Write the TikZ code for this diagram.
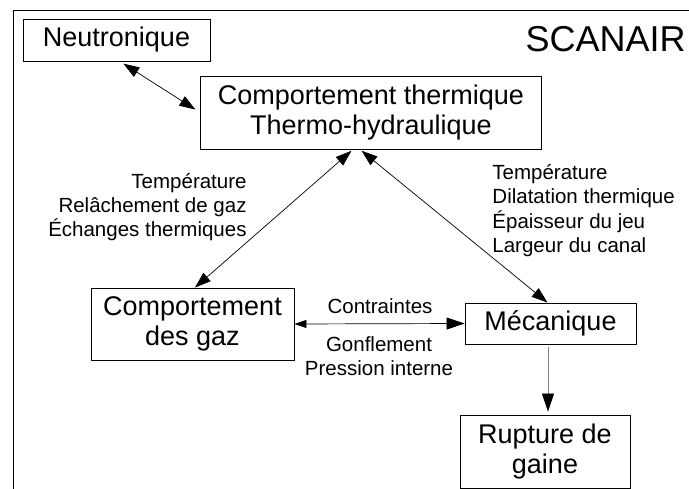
\documentclass[tikz,border=0pt]{standalone}
\usepackage{fontspec}
\setmainfont{Liberation Sans}
\usetikzlibrary{arrows.meta}

\begin{document}
\begin{tikzpicture}[x=1pt,y=-1pt,>={Triangle[length=16pt,width=11pt]},
	line width=0.9pt,
	main node/.style={draw,align=center,inner sep=0pt,font=\fontsize{27}{30}\selectfont},
	label node/.style={inner sep=0pt,font=\fontsize{20.5}{24.3}\selectfont}]
\useasboundingbox (0,0) rectangle (689,489);
\draw (13,489) -- (13,10) -- (689,10);
\node[main node,minimum width=187pt,minimum height=42pt] (neut) at (116.5,40) {Neutronique};
\node[main node,minimum width=341pt,minimum height=73pt] (therm) at (371,112.5) {Comportement thermique\\Thermo-hydraulique};
\node[main node,minimum width=203pt,minimum height=72pt] (gaz) at (192.5,324) {Comportement\\des gaz};
\node[main node,minimum width=171pt,minimum height=41pt] (meca) at (550.5,323.5) {Mécanique};
\node[main node,minimum width=170pt,minimum height=73pt] (rupt) at (545,451.5) {Rupture de\\gaine};
\node[anchor=base east,inner sep=0pt,font=\fontsize{36}{40}\selectfont] (titre) at (686,52) {SCANAIR};
\node[label node,anchor=east,align=right] (lgaz) at (247,207) {Température\\Relâchement de gaz\\Échanges thermiques};
\node[label node,anchor=west,align=left] (lmeca) at (492,210.5) {Température\\Dilatation thermique\\Épaisseur du jeu\\Largeur du canal};
\node[label node] (contr) at (380,306) {Contraintes};
\node[label node,align=center] (gonfl) at (379,356.5) {Gonflement\\Pression interne};
\path[line width=0.7pt]
	([xshift=3.5pt]neut.south) edge[<->,shorten <=4pt,shorten >=5.5pt] (therm.west)
	([xshift=-18pt]therm.south) edge[<->,shorten <=2pt] ([xshift=2.5pt]gaz.north)
	([xshift=-11pt]therm.south) edge[<->,shorten <=2pt] ([xshift=-3pt]meca.north)
	(gaz.east) edge[{Triangle[length=12pt,width=8pt]}-{Triangle[length=18pt,width=12pt]}] (meca.west);
\draw[->,gray,shorten <=3pt,shorten >=3pt,>={Triangle[length=18pt,width=12pt,color=black]}]
	([xshift=-2.5pt]meca.south) -- ([xshift=-2.5pt]meca.south |- rupt.north);
\end{tikzpicture}
\end{document}
